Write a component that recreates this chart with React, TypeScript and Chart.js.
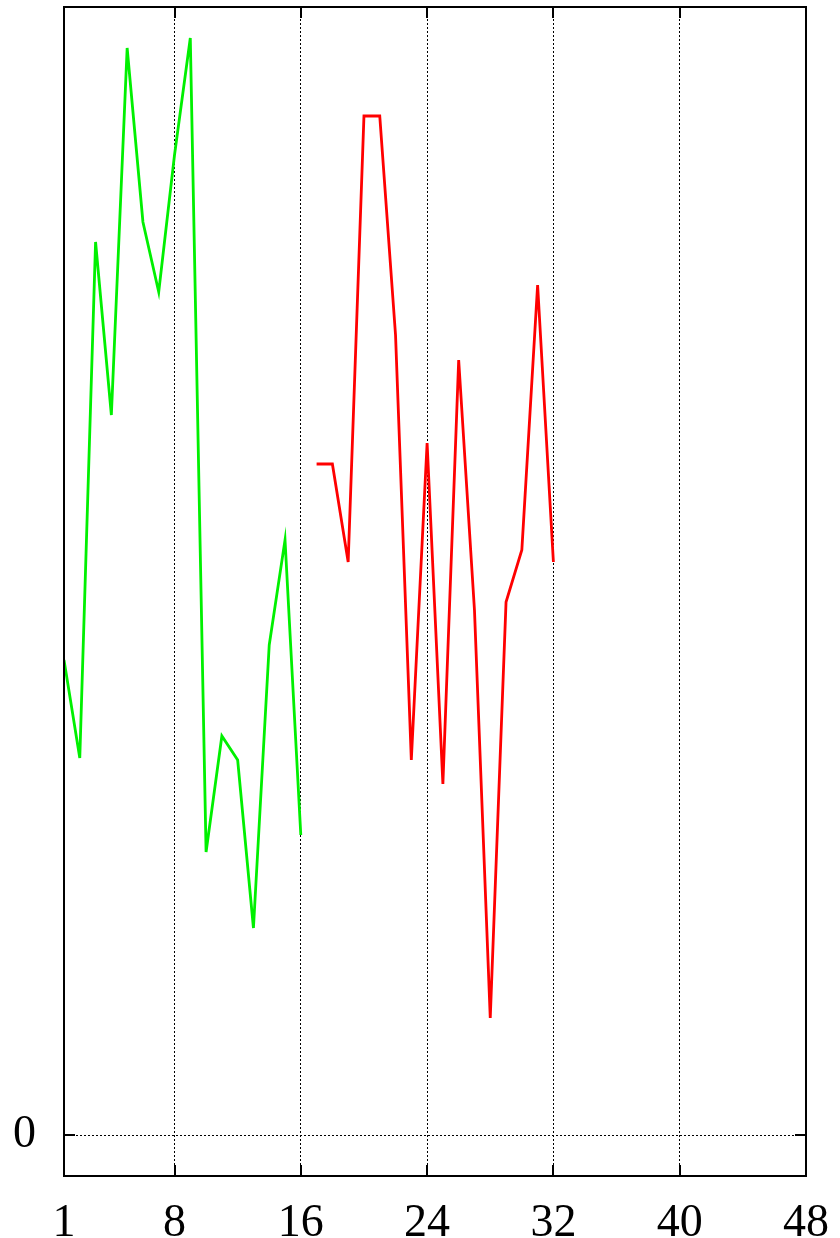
import React, { useEffect, useRef } from "react";
import { Chart, registerables } from "chart.js";

Chart.register(...registerables);

const xTickValues = [1, 8, 16, 24, 32, 40, 48];
const yTickValues = [0];

const greenStart = 1;
const greenValues = [47.5, 37.7, 89.3, 72.0, 108.7, 91.3, 84.3, 98.0, 109.7, 28.3, 39.9, 37.5, 20.7, 49.0, 59.5, 30.0];

const redStart = 17;
const redValues = [67.1, 67.1, 57.3, 101.9, 101.9, 80.0, 37.5, 69.2, 35.1, 77.5, 52.5, 11.7, 53.3, 58.5, 85.0, 57.3];

const toPoints = (start: number, vals: number[]) => vals.map((v, i) => ({ x: start + i, y: v }));

const zeroPad = (scale: any) => {
  scale.paddingLeft = 0;
  scale.paddingRight = 0;
  scale.paddingTop = 0;
  scale.paddingBottom = 0;
};

const boxPlugin = {
  id: "boxPlugin",
  afterDraw(chart: any) {
    const { ctx, chartArea } = chart;
    const xs = chart.scales.x;
    const ys = chart.scales.y;
    ctx.save();
    ctx.strokeStyle = "#000";
    ctx.lineWidth = 2;
    ctx.setLineDash([]);
    ctx.strokeRect(chartArea.left, chartArea.top, chartArea.right - chartArea.left, chartArea.bottom - chartArea.top);
    ctx.beginPath();
    xTickValues.forEach((v) => {
      if (v === xs.min || v === xs.max) return;
      const px = Math.round(xs.getPixelForValue(v));
      ctx.moveTo(px, chartArea.bottom);
      ctx.lineTo(px, chartArea.bottom - 11);
      ctx.moveTo(px, chartArea.top);
      ctx.lineTo(px, chartArea.top + 11);
    });
    yTickValues.forEach((v) => {
      const py = Math.round(ys.getPixelForValue(v));
      ctx.moveTo(chartArea.left, py);
      ctx.lineTo(chartArea.left + 11, py);
      ctx.moveTo(chartArea.right, py);
      ctx.lineTo(chartArea.right - 11, py);
    });
    ctx.stroke();
    ctx.restore();
  },
};

export default function App() {
  const ref = useRef<HTMLCanvasElement | null>(null);
  useEffect(() => {
    if (!ref.current) return;
    const chart = new Chart(ref.current, {
      type: "line",
      data: {
        datasets: [
          {
            data: toPoints(greenStart, greenValues),
            borderColor: "#00f000",
            borderWidth: 2.8,
            pointRadius: 0,
            tension: 0,
            fill: false,
          },
          {
            data: toPoints(redStart, redValues),
            borderColor: "#ff0000",
            borderWidth: 2.8,
            pointRadius: 0,
            tension: 0,
            fill: false,
          },
        ],
      },
      options: {
        responsive: false,
        animation: false,
        layout: { padding: { top: 7, right: 34, left: 0, bottom: 0 } },
        plugins: { legend: { display: false }, tooltip: { enabled: false } },
        scales: {
          x: {
            type: "linear",
            min: 1,
            max: 48,
            afterBuildTicks: (scale: any) => {
              scale.ticks = xTickValues.map((v) => ({ value: v }));
            },
            afterFit: (scale: any) => {
              scale.height = 62;
              zeroPad(scale);
            },
            ticks: {
              autoSkip: false,
              maxRotation: 0,
              padding: 20,
              color: "#000",
              font: { family: "'Liberation Serif', 'DejaVu Serif', serif", size: 46 },
            },
            grid: {
              drawTicks: false,
              lineWidth: 1,
              color: (c: any) => (c.tick && (c.tick.value === 1 || c.tick.value === 48) ? "rgba(0,0,0,0)" : "#000"),
            },
            border: { display: false, dash: [2, 2] },
          },
          y: {
            type: "linear",
            min: -4.1,
            max: 112.8,
            afterBuildTicks: (scale: any) => {
              scale.ticks = yTickValues.map((v) => ({ value: v }));
            },
            afterFit: (scale: any) => {
              scale.width = 64;
              zeroPad(scale);
            },
            ticks: {
              padding: 28,
              color: "#000",
              font: { family: "'Liberation Serif', 'DejaVu Serif', serif", size: 46 },
            },
            grid: { drawTicks: false, lineWidth: 1, color: "#000" },
            border: { display: false, dash: [2, 2] },
          },
        },
      },
      plugins: [boxPlugin],
    } as any);
    return () => chart.destroy();
  }, []);
  return (
    <div style={{ position: "absolute", left: 0, top: 0, width: 840, height: 1238, background: "#fff" }}>
      <canvas ref={ref} width={840} height={1238} style={{ display: "block" }} />
    </div>
  );
}
